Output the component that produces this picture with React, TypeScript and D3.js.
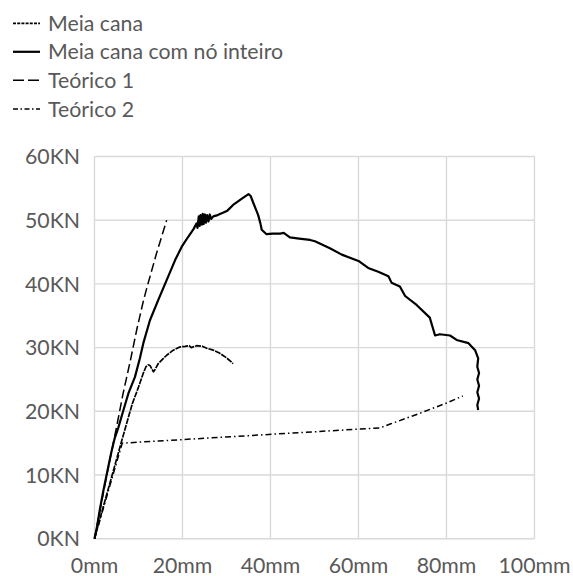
import React from "react";
import * as d3 from "d3";

const xTicks = [0, 20, 40, 60, 80, 100];
const yTicks = [0, 10, 20, 30, 40, 50, 60];

// Meia cana com nó inteiro (solid)
const inteiroX = [0, 0.6, 1.2, 2, 2.9, 3.8, 4.6, 5.4, 6.5, 7.7, 9.2, 10.3, 11.1, 12.6, 14.5, 16.4, 18.3, 19.8, 21.3, 22.5, 23.2, 23.4, 23.7, 23.9, 24.1, 24.4, 24.6, 24.8, 25.1, 25.3, 25.6, 25.9, 26.2, 26.5, 27.0, 28.0, 29.3, 30.2, 31.5, 33.5, 35.0, 35.5, 36.1, 37.2, 37.7, 38.0, 39.1, 40.5, 42.2, 43.0, 44.4, 46.5, 49.0, 50.1, 53.5, 56.2, 60.0, 62.2, 64.5, 66.8, 67.5, 69.4, 70.6, 73.2, 76.2, 77.4, 78.5, 80.8, 82.3, 85.0, 86.5, 87.2, 87.0, 87.4, 87.0, 87.4, 87.0, 87.4, 87.0, 87.2];
const inteiroY = [0, 2, 4.5, 7.5, 10.5, 13.5, 15.8, 17.4, 20, 22.8, 25.4, 28.3, 30.7, 34.3, 37.5, 40.6, 43.7, 45.8, 47.4, 48.6, 49.5, 48.8, 50.6, 49.1, 50.8, 49.3, 51.0, 49.4, 50.9, 49.6, 50.8, 49.8, 50.9, 50.2, 50.6, 50.8, 51.2, 51.5, 52.4, 53.4, 54.1, 53.8, 52.7, 50.8, 49.5, 48.5, 47.8, 47.9, 47.9, 48.0, 47.3, 47.1, 46.9, 46.7, 45.6, 44.6, 43.6, 42.5, 41.9, 41.2, 40.2, 39.6, 38.1, 36.7, 34.7, 31.9, 32.1, 31.9, 31.2, 30.7, 29.6, 28.3, 27, 26, 25, 24, 23, 22, 21, 20.2];

// Meia cana (fine dotted)
const meiaX = [0, 1.5, 3, 4.5, 6.2, 7.6, 8.6, 10.0, 11.1, 11.7, 12.2, 12.6, 13.0, 13.4, 13.8, 14.5, 15.5, 16.4, 17.9, 19.4, 20.6, 21.5, 22.0, 23.2, 24.5, 25.5, 27.0, 28.5, 30.0, 31.5];
const meiaY = [0, 3.8, 7.5, 11.2, 15.4, 18.8, 21.2, 23.8, 26.0, 27.0, 27.3, 27.2, 26.7, 26.2, 26.6, 27.5, 28.2, 28.8, 29.6, 30.1, 30.2, 30.3, 30.0, 30.3, 30.2, 29.9, 29.6, 29.1, 28.4, 27.5];

// Teórico 1 (dashed)
const teo1X = [0, 2.8, 5.2, 6.5, 8.1, 9.6, 11.1, 11.9, 14.1, 16.4];
const teo1Y = [0, 10, 18.2, 22.8, 27.8, 32.8, 37.3, 39.4, 44.8, 50.0];

// Teórico 2 (dash-dot)
const teo2X = [0, 6.3, 64.9, 67.2, 74.0, 80.0, 83.7];
const teo2Y = [0, 15.0, 17.4, 18.0, 19.7, 21.3, 22.4];

const legendLabels = ["Meia cana", "Meia cana com nó inteiro", "Teórico 1", "Teórico 2"];

const W = 573;
const H = 576;
const FONT = "Lato, 'Open Sans', sans-serif";
const TXT = "#595959";
const FS = 21.3;

const styles = [
  { dash: "3,1.2", chartDash: "6,1", width: 1.7 },
  { dash: "none", chartDash: "none", width: 2.2 },
  { dash: "11,4", chartDash: "9,4", width: 1.5 },
  { dash: "5,2.5,1.5,2.5", chartDash: "6,3,1.5,3", width: 1.5 },
];

export default function App() {
  const x = d3.scaleLinear().domain([0, 100]).range([94.5, 534.5]);
  const y = d3.scaleLinear().domain([0, 60]).range([538.7, 156.5]);
  const line = d3
    .line<[number, number]>()
    .x((d) => x(d[0]))
    .y((d) => y(d[1]));
  const zip = (a: number[], b: number[]) => a.map((v, i) => [v, b[i]] as [number, number]);

  const series = [
    { data: zip(meiaX, meiaY), s: styles[0] },
    { data: zip(teo2X, teo2Y), s: styles[3] },
    { data: zip(teo1X, teo1Y), s: styles[2] },
    { data: zip(inteiroX, inteiroY), s: styles[1] },
  ];

  const legendY = [23.3, 51.8, 80.3, 109];

  return (
    <svg
      width={W}
      height={H}
      style={{ position: "absolute", left: 0, top: 0, background: "#fff" }}
      fontFamily={FONT}
    >
      <rect x={0} y={0} width={W} height={H} fill="#fff" />
      {xTicks.map((t) => (
        <line key={"gx" + t} x1={x(t)} x2={x(t)} y1={y(0)} y2={y(60)} stroke="#d9d9d9" strokeWidth={1.4} />
      ))}
      {yTicks.map((t) => (
        <line key={"gy" + t} x1={x(0)} x2={x(100)} y1={y(t)} y2={y(t)} stroke="#d9d9d9" strokeWidth={1.4} />
      ))}
      {yTicks.map((t) => (
        <text key={"ty" + t} x={80} y={y(t)} dy="0.36em" textAnchor="end" fontSize={FS} fill={TXT}>
          {t + "KN"}
        </text>
      ))}
      {xTicks.map((t) => (
        <text key={"tx" + t} x={x(t)} y={572.5} textAnchor="middle" fontSize={FS} fill={TXT}>
          {t + "mm"}
        </text>
      ))}
      {series.map((sr, i) => (
        <path
          key={"s" + i}
          d={line(sr.data) || ""}
          fill="none"
          stroke="#000"
          strokeWidth={sr.s.width}
          strokeDasharray={sr.s.chartDash}
          strokeLinejoin="round"
        />
      ))}
      {legendLabels.map((lab, i) => (
        <g key={"lg" + i}>
          <line
            x1={13}
            x2={40}
            y1={legendY[i]}
            y2={legendY[i]}
            stroke="#000"
            strokeWidth={styles[i].width}
            strokeDasharray={styles[i].dash}
          />
          <text x={48} y={legendY[i] + 7.5} fontSize={FS} fill={TXT}>
            {lab}
          </text>
        </g>
      ))}
    </svg>
  );
}
